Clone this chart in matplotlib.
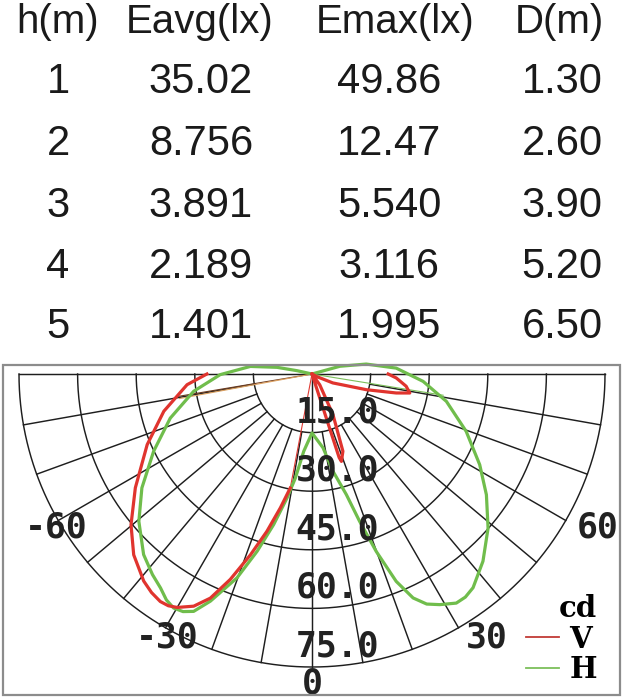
import numpy as np
import matplotlib.pyplot as plt
from matplotlib.lines import Line2D
from matplotlib.patches import Rectangle

# ---- table data ----
col_heads = ['h(m)', 'Eavg(lx)', 'Emax(lx)', 'D(m)']
h_m = ['1', '2', '3', '4', '5']
e_avg = ['35.02', '8.756', '3.891', '2.189', '1.401']
e_max = ['49.86', '12.47', '5.540', '3.116', '1.995']
d_m = ['1.30', '2.60', '3.90', '5.20', '6.50']

# ---- polar diagram data (deg from nadir, cd) ----
ring_vals = [15, 30, 45, 60, 75]
angle_ticks = [-60, -30, 0, 30, 60]

# H plane (green)
h_deg = [-104, -102.5, -100.8, -97, -89.6, -81.7, -72.7, -64, -56.2, -49.6,
         -43, -38.5, -35.3, -32.8, -30.6, -28.5, -26.5, -24.1, -20.2, -17.2,
         -14.3, -11.4, -9.1, -6.1, 0, 8.5, 12.2, 15.9, 17.9, 19.9, 22.1,
         24.3, 26.5, 29, 32.2, 34.5, 37, 42.4, 48.8, 55.3, 61.6, 69.6, 78.5,
         86.2, 94, 100.4, 105.5, 109]
h_cd = [0, 3.9, 9.1, 15.9, 23.5, 30.6, 38.0, 45.1, 52.4, 58.2,
        63.2, 65.6, 67.1, 68.8, 69.6, 69.2, 67.9, 63.7, 55.6, 47.5,
        39.8, 32.4, 27.0, 19.9, 15.1, 19.1, 25.5, 32.1, 39.6, 48.3, 57.3,
        62.9, 65.8, 67.5, 69.3, 69.3, 68.5, 64.9, 59.9, 54.3, 48.8, 42.1, 35.1,
        28.5, 21.6, 14.1, 7.4, 0]

# V plane (red), left lobe
v_left_deg = [-90, -85.1, -75.9, -66.8, -57.2, -50.2, -44.6, -39.1, -36.3,
              -33.7, -31.8, -30, -27, -24.4, -21.7, -18.8, -16, -13.3, -10.8]
v_left_cd = [26.9, 32.1, 39.1, 45.9, 53.8, 60.3, 65.0, 68.3, 69.4,
             70.0, 69.8, 69.0, 66.7, 63.0, 56.6, 48.9, 41.9, 35.2, 29.7]

# V plane (red), right spike and petal
v_right_deg = [10, 18, 18.6, 21.8, 27.3, 35.7, 42, 58, 62, 66.8, 73.9,
               77.3, 79, 82.6, 87.3, 90]
v_right_cd = [0, 22.5, 23.6, 21.3, 11.7, 3.4, 0, 0, 1.5, 5.8, 14.5,
              22.1, 25.5, 24.3, 21.6, 19.5]

# thin connecting lines from the centre
thin_deg = [-80.5, -79.5, -10.8, 80.8]
thin_cd = [35, 34.5, 29.7, 34]
thin_col = ['#6b3a1f', '#dba060', '#e03a33', '#7cbf5a']

grid_c = '#1e1e1e'
red = '#e0342e'
green = '#70bd4c'
W, H = 630, 700


def fx(px):
    return px / W


def fy(py):
    return 1 - py / H


fig = plt.figure(figsize=(6.3, 7.0), dpi=100)

# ---- table ----
head_x = [58, 200, 395, 559]
col_x = [58, 201, 389, 562]
fig_font = 'Liberation Sans'
for x, s in zip(head_x, col_heads):
    fig.text(fx(x), fy(33), s, ha='center', va='baseline', fontsize=29,
             family=fig_font, color='#1a1a1a')
row_base = [93, 155, 217, 278, 338]
for i, yb in enumerate(row_base):
    for x, col in zip(col_x, [h_m, e_avg, e_max, d_m]):
        fig.text(fx(x), fy(yb), col[i], ha='center', va='baseline',
                 fontsize=30, family=fig_font, color='#1a1a1a')

# frame round the diagram
fig.add_artist(Rectangle((fx(3), fy(695)), fx(617), (695 - 365) / H,
                         transform=fig.transFigure, fill=False,
                         ec='#8c8c8c', lw=1.6))

# ---- polar diagram ----
cx, cy, rpx = 312, 374, 293
ax = fig.add_axes([fx(cx - rpx), 1 - (cy + rpx) / H, 2 * rpx / W, 2 * rpx / H],
                  projection='polar')
ax.set_theta_zero_location('S')
ax.set_theta_direction(1)
ax.set_ylim(0, 75)
ax.axis('off')

th = np.radians(np.linspace(-90, 90, 361))
for rv in ring_vals:
    ax.plot(th, np.full_like(th, rv), color=grid_c, lw=1.05, clip_on=False)
for a in range(-90, 91, 10):
    r0 = 0 if a in (-90, 0, 90) else ring_vals[0]
    ax.plot(np.radians([a, a]), [r0, ring_vals[-1]], color=grid_c, lw=1.05,
            clip_on=False)

for d, c, col in zip(thin_deg, thin_cd, thin_col):
    ax.plot(np.radians([d, d]), [0, c], color=col, lw=0.8, clip_on=False)

ax.plot(np.radians(h_deg), h_cd, color=green, lw=2.3, clip_on=False,
        solid_joinstyle='round')
ax.plot(np.radians(v_left_deg), v_left_cd, color=red, lw=2.3, clip_on=False,
        solid_joinstyle='round')
ax.plot(np.radians(v_right_deg), v_right_cd, color=red, lw=2.3,
        clip_on=False, solid_joinstyle='round')

lab_font = dict(family='DejaVu Sans Mono', weight='bold', fontsize=25,
                color='#222222')
for rv in ring_vals:
    ax.annotate(f'{rv:.1f}', xy=(0, rv), xytext=(25.5, 10.5),
                textcoords='offset pixels', ha='center', va='baseline',
                annotation_clip=False, **lab_font)

tick_off = [(-2, -17), (1.5, -20), (0, -26), (28, -20), (32, -17)]
for a, off in zip(angle_ticks, tick_off):
    ax.annotate(str(a), xy=(np.radians(a), ring_vals[-1]), xytext=off,
                textcoords='offset pixels', ha='center', va='baseline',
                annotation_clip=False, **lab_font)

leg_font = {'family': 'DejaVu Serif', 'weight': 'bold', 'size': 21}
handles = [Line2D([], [], color='#c23a36', lw=1.3),
           Line2D([], [], color='#7cbf5a', lw=1.3)]
ax.legend(handles, ['V', 'H'], title='cd', loc='lower right',
          bbox_to_anchor=(fx(597), fy(684)), bbox_transform=fig.transFigure,
          frameon=False, borderpad=0, handlelength=1.15, handletextpad=0.35,
          labelspacing=0.05, borderaxespad=0, prop=leg_font,
          title_fontproperties=leg_font, alignment='right')

fig.savefig('out.png', dpi=100)
